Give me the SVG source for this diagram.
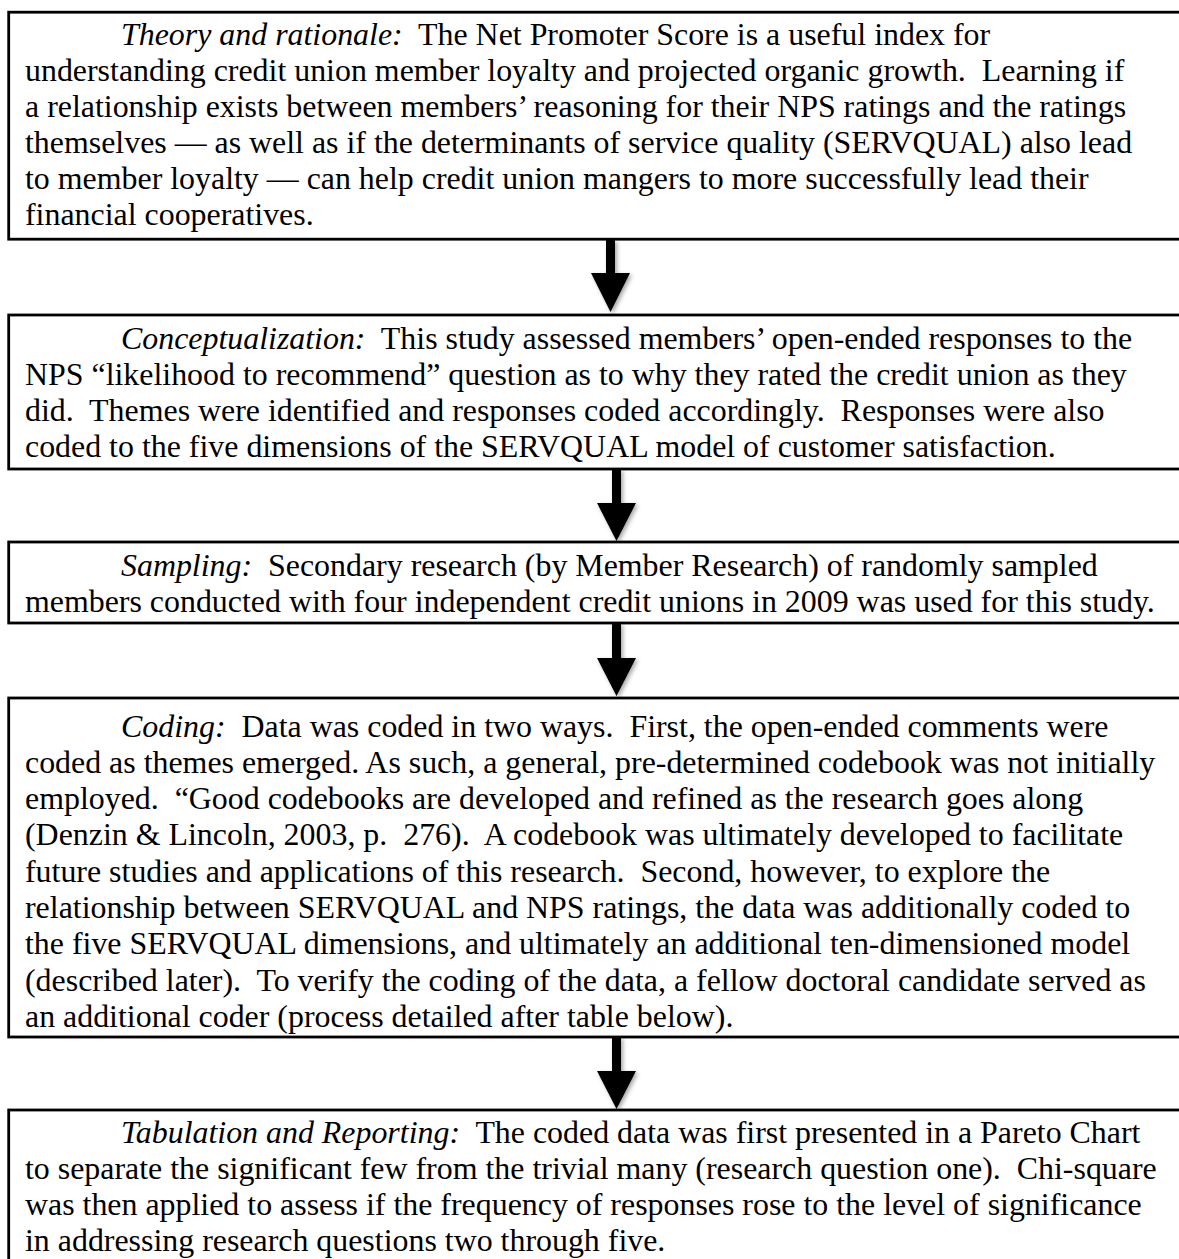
<svg xmlns="http://www.w3.org/2000/svg" width="1179" height="1259" viewBox="0 0 1179 1259">
<defs>
<style>
.box{fill:#fff;stroke:#000;stroke-width:2.8}
.t{font-family:"Liberation Serif","Times New Roman",serif;font-size:31.9px;fill:#000;white-space:pre}
.i{font-style:italic}
.arr{fill:#000}
</style>
<filter id="sh" x="-50%" y="-50%" width="200%" height="200%">
<feDropShadow dx="2" dy="2" stdDeviation="2" flood-color="#000" flood-opacity="0.35"/>
</filter>
</defs>
<rect width="1179" height="1259" fill="#fff"/>
<g id="connectors">
<path class="arr" filter="url(#sh)" d="M606,240 H615 V273 H630 L610.5,312 L591,273 H606 Z"/>
<path class="arr" filter="url(#sh)" d="M612,469 H621 V503 H636 L616.5,541 L597,503 H612 Z"/>
<path class="arr" filter="url(#sh)" d="M612,623 H621 V658 H636 L616.5,696 L597,658 H612 Z"/>
<path class="arr" filter="url(#sh)" d="M612,1037 H621 V1071 H636 L616.5,1109 L597,1071 H612 Z"/>
</g>
<g id="theory">
<rect class="box" x="8.7" y="12.2" width="1190" height="227"/>
<text class="t" xml:space="preserve"><tspan x="121" y="45"><tspan class="i">Theory and rationale:</tspan>  The Net Promoter Score is a useful index for</tspan><tspan x="25" y="81">understanding credit union member loyalty and projected organic growth.  Learning if</tspan><tspan x="25" y="117">a relationship exists between members’ reasoning for their NPS ratings and the ratings</tspan><tspan x="25" y="153">themselves — as well as if the determinants of service quality (SERVQUAL) also lead</tspan><tspan x="25" y="189">to member loyalty — can help credit union mangers to more successfully lead their</tspan><tspan x="25" y="225">financial cooperatives.</tspan></text>
</g>
<g id="conceptualization">
<rect class="box" x="8.7" y="315" width="1190" height="154"/>
<text class="t" xml:space="preserve"><tspan x="121" y="349"><tspan class="i">Conceptualization:</tspan>  This study assessed members’ open-ended responses to the</tspan><tspan x="25" y="385">NPS “likelihood to recommend” question as to why they rated the credit union as they</tspan><tspan x="25" y="421">did.  Themes were identified and responses coded accordingly.  Responses were also</tspan><tspan x="25" y="457">coded to the five dimensions of the SERVQUAL model of customer satisfaction.</tspan></text>
</g>
<g id="sampling">
<rect class="box" x="8.7" y="542" width="1190" height="81"/>
<text class="t" xml:space="preserve"><tspan x="121" y="576"><tspan class="i">Sampling:</tspan>  Secondary research (by Member Research) of randomly sampled</tspan><tspan x="25" y="612">members conducted with four independent credit unions in 2009 was used for this study.</tspan></text>
</g>
<g id="coding">
<rect class="box" x="8.7" y="698" width="1190" height="339"/>
<text class="t" xml:space="preserve"><tspan x="121" y="737"><tspan class="i">Coding:</tspan>  Data was coded in two ways.  First, the open-ended comments were</tspan><tspan x="25" y="773">coded as themes emerged. As such, a general, pre-determined codebook was not initially</tspan><tspan x="25" y="809">employed.  “Good codebooks are developed and refined as the research goes along</tspan><tspan x="25" y="845">(Denzin &amp; Lincoln, 2003, p.  276).  A codebook was ultimately developed to facilitate</tspan><tspan x="25" y="882">future studies and applications of this research.  Second, however, to explore the</tspan><tspan x="25" y="918">relationship between SERVQUAL and NPS ratings, the data was additionally coded to</tspan><tspan x="25" y="954">the five SERVQUAL dimensions, and ultimately an additional ten-dimensioned model</tspan><tspan x="25" y="991">(described later).  To verify the coding of the data, a fellow doctoral candidate served as</tspan><tspan x="25" y="1027">an additional coder (process detailed after table below).</tspan></text>
</g>
<g id="tabulation">
<rect class="box" x="8.7" y="1110" width="1190" height="180"/>
<text class="t" xml:space="preserve"><tspan x="121" y="1143"><tspan class="i">Tabulation and Reporting:</tspan>  The coded data was first presented in a Pareto Chart</tspan><tspan x="25" y="1179">to separate the significant few from the trivial many (research question one).  Chi-square</tspan><tspan x="25" y="1215">was then applied to assess if the frequency of responses rose to the level of significance</tspan><tspan x="25" y="1251">in addressing research questions two through five.</tspan></text>
</g>
</svg>
